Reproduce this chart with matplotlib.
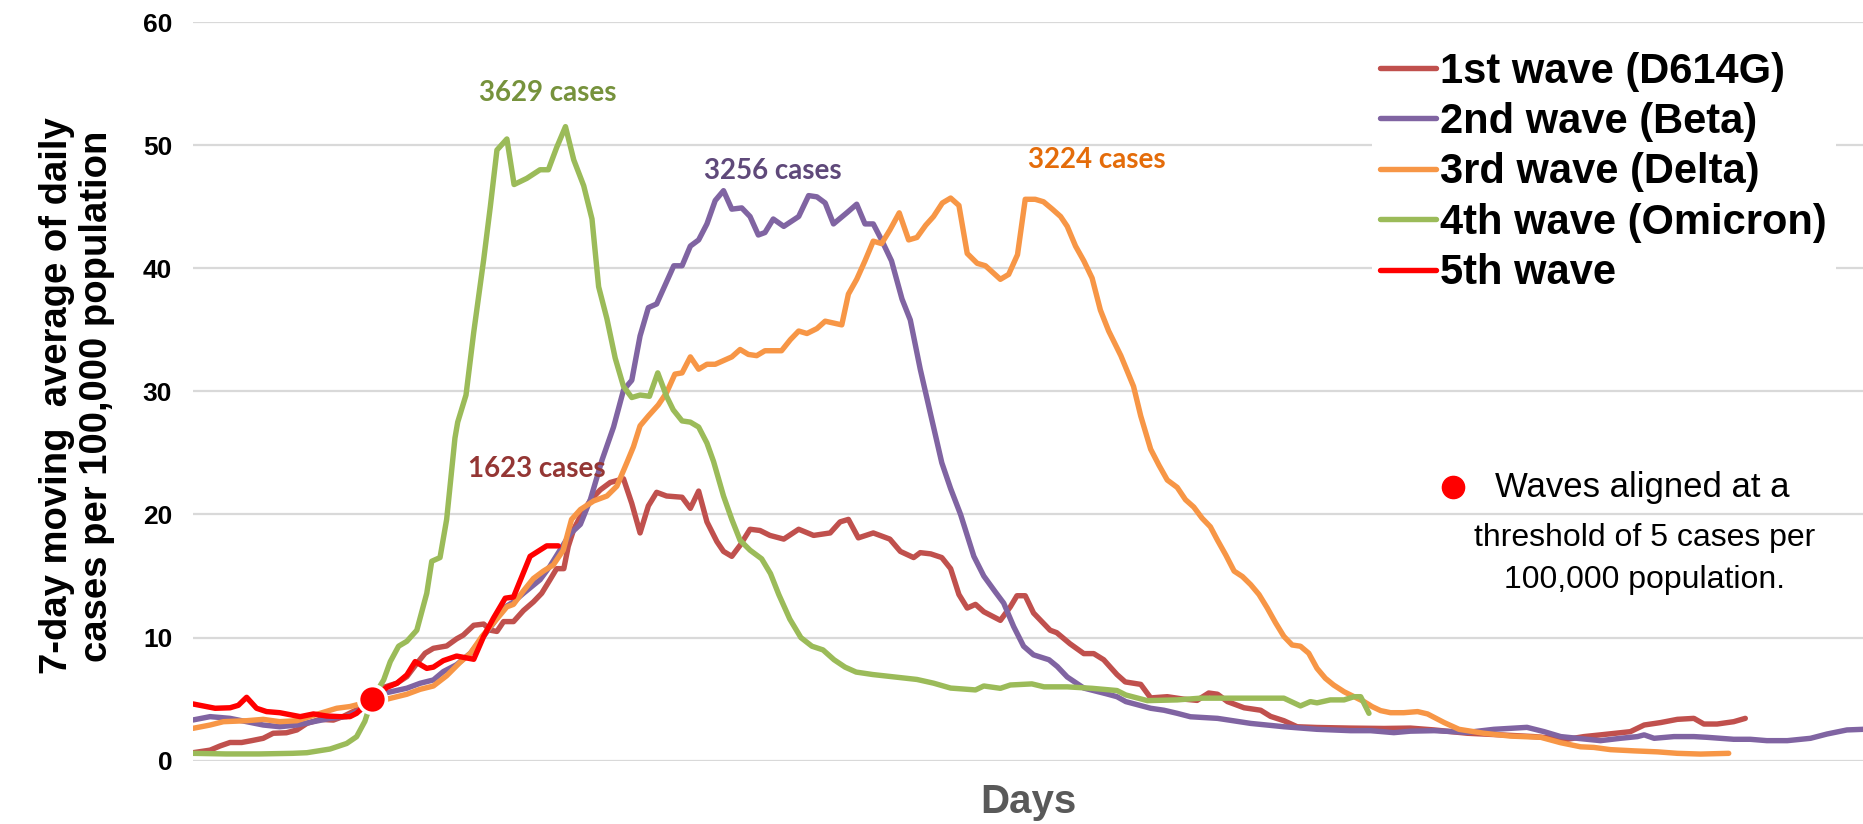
import matplotlib
matplotlib.use("Agg")
import matplotlib.pyplot as plt

plt.rcParams['font.family'] = ['Liberation Sans', 'DejaVu Sans']

# days since start vs 7-day moving average per 100,000
wave1_day = [0, 3.1, 4.9, 6.7, 8.8, 10.6, 12.7, 14.5, 16.9, 18.8,
             20.6, 23.0, 25.4, 27.2, 29.0, 30.8, 32.4, 34.5, 36.9, 38.7,
             40.5, 42.0, 43.5, 45.9, 47.7, 48.9, 50.8, 52.6, 53.8, 55.0,
             56.2, 58.0, 59.8, 61.6, 63.1, 64.6, 65.8, 67.1, 67.9, 68.9,
             70.5, 72.0, 73.7, 75.5, 77.9, 79.4, 80.9, 82.4, 83.9, 85.7,
             88.5, 90.0, 91.5, 93.0, 94.8, 96.0, 97.5, 99.0, 100.8, 102.6,
             104.4, 106.9, 109.6, 112.3, 115.3, 117.1, 118.6, 120.4, 123.1, 126.1,
             128.0, 130.4, 131.6, 133.5, 135.5, 137.1, 138.6, 140.1, 141.6, 143.1,
             146.1, 147.9, 149.1, 150.6, 152.1, 155.1, 156.3, 158.7, 161.2, 163.0,
             164.8, 167.2, 168.7, 171.5, 173.3, 176.3, 179.3, 181.7, 183.8, 185.4,
             187.2, 190.2, 193.2, 195.0, 197.4, 199.8, 203.4, 209.5, 215.5, 220.3,
             224.6, 230.6, 236.6, 242.6, 248.7, 251.7, 254.7, 260.1, 262.6, 265.6,
             268.6, 271.6, 273.4, 275.8, 278.8, 280.9]
wave1_val = [0.65, 0.86, 1.2, 1.48, 1.48, 1.63, 1.82, 2.23, 2.27, 2.5,
             3.03, 3.36, 3.3, 3.6, 4.0, 4.4, 5.0, 5.96, 6.3, 6.83,
             7.9, 8.73, 9.13, 9.32, 9.9, 10.2, 11.0, 11.1, 10.6, 10.5,
             11.3, 11.3, 12.2, 12.9, 13.6, 14.7, 15.6, 15.6, 17.4, 18.8,
             20.2, 21.2, 22.0, 22.6, 22.9, 20.9, 18.5, 20.7, 21.8, 21.5,
             21.4, 20.5, 21.9, 19.4, 17.8, 17.0, 16.6, 17.5, 18.8, 18.7,
             18.3, 18.0, 18.8, 18.3, 18.5, 19.4, 19.6, 18.1, 18.5, 18.0,
             17.0, 16.5, 16.9, 16.8, 16.5, 15.6, 13.5, 12.4, 12.7, 12.1,
             11.4, 12.5, 13.4, 13.4, 12.0, 10.6, 10.4, 9.5, 8.7, 8.7,
             8.2, 7.0, 6.4, 6.2, 5.1, 5.2, 5.0, 4.9, 5.5, 5.4,
             4.8, 4.3, 4.1, 3.6, 3.25, 2.76, 2.7, 2.65, 2.62, 2.65,
             2.5, 2.23, 2.1, 1.96, 1.74, 1.96, 2.1, 2.36, 2.9, 3.1,
             3.36, 3.44, 2.98, 2.98, 3.17, 3.44]

wave2_day = [0, 3.1, 6.7, 9.7, 12.7, 15.7, 18.8, 21.8, 24.8, 27.8,
             30.2, 32.4, 35.1, 38.7, 41.1, 43.5, 45.3, 47.7, 50.2, 52.0,
             54.4, 56.2, 58.0, 59.8, 62.8, 64.6, 66.4, 68.2, 70.1, 71.9,
             74.0, 76.1, 77.9, 79.4, 80.9, 82.4, 83.9, 85.4, 87.0, 88.5,
             90.0, 91.5, 93.0, 94.5, 96.0, 97.5, 99.3, 100.8, 102.3, 103.5,
             105.0, 106.9, 109.6, 111.4, 112.9, 114.4, 115.9, 118.3, 120.1, 121.6,
             123.1, 124.6, 126.4, 128.3, 129.8, 131.6, 133.7, 135.5, 137.1, 138.9,
             141.3, 143.1, 145.2, 146.7, 148.5, 150.3, 152.1, 154.9, 156.4, 158.2,
             161.2, 165.4, 167.2, 168.8, 173.3, 175.7, 178.1, 180.5, 185.4, 191.4,
             197.4, 203.4, 209.5, 213.1, 217.3, 220.3, 224.6, 230.6, 235.4, 241.4,
             244.5, 247.5, 250.5, 254.7, 258.3, 261.4, 262.6, 264.4, 268.0, 271.6,
             274.0, 278.8, 281.8, 284.8, 288.5, 292.7, 295.7, 299.3, 302.2]
wave2_val = [3.31, 3.58, 3.44, 3.17, 2.9, 2.76, 2.9, 3.17, 3.44, 3.58,
             4.1, 5.0, 5.53, 5.89, 6.29, 6.56, 7.24, 7.8, 8.73, 9.76,
             11.2, 12.4, 12.9, 13.6, 14.7, 15.8, 17.1, 18.4, 19.2, 21.2,
             24.4, 27.1, 30.1, 30.9, 34.5, 36.8, 37.1, 38.6, 40.2, 40.2,
             41.8, 42.3, 43.6, 45.5, 46.3, 44.8, 44.9, 44.2, 42.7, 42.9,
             44.0, 43.4, 44.2, 45.9, 45.8, 45.3, 43.6, 44.5, 45.2, 43.6,
             43.6, 42.3, 40.6, 37.5, 35.8, 31.8, 27.7, 24.2, 22.1, 20.0,
             16.6, 15.0, 13.7, 12.8, 10.9, 9.3, 8.6, 8.2, 7.65, 6.8,
             5.9, 5.42, 5.2, 4.8, 4.26, 4.1, 3.85, 3.57, 3.44, 3.03,
             2.76, 2.55, 2.44, 2.44, 2.28, 2.4, 2.44, 2.3, 2.55, 2.71,
             2.36, 1.96, 1.82, 1.63, 1.82, 1.96, 2.1, 1.82, 1.96, 1.96,
             1.9, 1.74, 1.74, 1.63, 1.63, 1.82, 2.17, 2.5, 2.55]

wave3_day = [0, 3.1, 5.5, 9.7, 12.7, 15.7, 18.8, 23.0, 26.0, 28.4,
             30.2, 32.4, 35.1, 38.7, 41.1, 43.5, 45.9, 48.3, 50.2, 52.3,
             54.4, 56.8, 58.0, 59.8, 61.6, 63.4, 65.2, 67.0, 68.5, 70.1,
             72.5, 74.9, 76.7, 78.5, 79.7, 80.9, 82.4, 84.2, 85.7, 87.2,
             88.5, 90.0, 91.5, 93.0, 94.5, 96.0, 97.5, 99.0, 100.5, 102.0,
             103.5, 106.5, 108.1, 109.6, 111.1, 112.9, 114.4, 117.4, 118.6, 120.1,
             121.6, 123.1, 124.6, 126.1, 127.8, 129.5, 131.0, 132.6, 134.0, 135.6,
             137.1, 138.6, 140.1, 141.9, 143.4, 146.1, 147.6, 149.2, 150.6, 152.4,
             153.9, 155.5, 157.0, 158.2, 159.7, 161.2, 162.7, 164.2, 165.7, 167.9,
             170.2, 171.5, 173.3, 174.8, 176.3, 178.1, 179.6, 181.1, 182.6, 184.1,
             185.4, 186.9, 188.4, 189.9, 191.4, 192.9, 194.4, 195.9, 197.4, 198.9,
             200.4, 201.9, 203.4, 204.9, 206.4, 208.3, 210.1, 211.9, 213.4, 214.9,
             216.7, 219.1, 221.6, 223.4, 226.4, 229.1, 233.6, 238.4, 243.9, 247.5,
             251.1, 253.5, 256.5, 260.8, 265.0, 268.6, 272.8, 277.9]
wave3_val = [2.63, 2.9, 3.17, 3.25, 3.36, 3.17, 3.25, 3.85, 4.26, 4.4,
             4.6, 5.0, 5.0, 5.4, 5.8, 6.07, 6.9, 7.98, 8.73, 10.1,
             11.2, 12.5, 12.7, 13.8, 14.8, 15.4, 15.9, 17.1, 19.6, 20.4,
             21.1, 21.5, 22.3, 24.2, 25.5, 27.2, 28.0, 28.9, 29.9, 31.4,
             31.5, 32.8, 31.8, 32.2, 32.2, 32.5, 32.8, 33.4, 33.0, 32.9,
             33.3, 33.3, 34.2, 34.9, 34.7, 35.1, 35.7, 35.4, 37.9, 39.1,
             40.6, 42.2, 42.0, 43.1, 44.5, 42.3, 42.5, 43.5, 44.2, 45.3,
             45.7, 45.1, 41.2, 40.4, 40.2, 39.1, 39.5, 41.1, 45.6, 45.6,
             45.4, 44.8, 44.2, 43.4, 41.8, 40.6, 39.2, 36.6, 34.9, 32.9,
             30.4, 28.0, 25.3, 24.0, 22.8, 22.2, 21.2, 20.6, 19.7, 19.0,
             17.9, 16.7, 15.4, 14.96, 14.3, 13.5, 12.4, 11.2, 10.1, 9.4,
             9.3, 8.73, 7.5, 6.7, 6.15, 5.6, 5.2, 4.8, 4.39, 4.07,
             3.9, 3.9, 3.99, 3.8, 3.1, 2.55, 2.23, 2.0, 1.9, 1.46,
             1.13, 1.08, 0.9, 0.8, 0.72, 0.6, 0.54, 0.6]

wave4_day = [0, 6, 12, 18, 20.6, 24.8, 27.8, 29.6, 31.1, 32.4,
             34.5, 35.7, 37.2, 38.7, 40.5, 42.3, 43.2, 44.7, 45.9, 47.4,
             47.9, 49.4, 50.8, 52.6, 53.8, 55.0, 56.8, 58.1, 60.4, 62.8,
             64.3, 65.8, 67.4, 68.9, 70.7, 72.2, 73.4, 74.9, 76.4, 77.9,
             79.4, 80.9, 82.6, 84.1, 85.7, 86.9, 88.5, 90.0, 91.5, 93.0,
             94.2, 96.0, 97.5, 99.0, 100.8, 102.9, 104.5, 106, 108, 110,
             112, 114, 116, 118, 120, 123, 127, 131, 134, 137.1,
             141.6, 143.1, 146.1, 147.9, 151.8, 154.0, 158.2, 162.7, 167.2, 168.8,
             172.7, 178.1, 182.3, 185.4, 191.4, 197.4, 200.4, 202.2, 203.4, 205.8,
             208.3, 210.1, 211.3, 212.8]
wave4_val = [0.6, 0.55, 0.55, 0.6, 0.65, 0.95, 1.4, 1.95, 3.2, 5.0,
             6.56, 8.05, 9.3, 9.7, 10.6, 13.6, 16.2, 16.5, 19.6, 26.2,
             27.5, 29.7, 34.8, 40.7, 45.0, 49.6, 50.5, 46.8, 47.3, 48.0,
             48.0, 49.8, 51.5, 48.8, 46.7, 44.0, 38.5, 35.9, 32.7, 30.4,
             29.5, 29.7, 29.6, 31.5, 29.6, 28.5, 27.6, 27.5, 27.1, 25.8,
             24.3, 21.5, 19.6, 17.9, 17.1, 16.4, 15.2, 13.5, 11.5, 10.0,
             9.3, 9.0, 8.2, 7.6, 7.2, 7.0, 6.8, 6.6, 6.3, 5.9,
             5.75, 6.07, 5.88, 6.15, 6.24, 6.0, 6.0, 5.88, 5.7, 5.34,
             4.88, 4.94, 5.08, 5.08, 5.08, 5.08, 4.45, 4.8, 4.7, 4.94,
             4.94, 5.2, 5.2, 3.85]

wave5_day = [0, 4.0, 6.7, 8.2, 9.7, 11.5, 13.3, 15.7, 19.4, 21.8,
             24.2, 26.6, 28.4, 29.6, 32.4, 35.1, 36.9, 38.7, 40.2, 42.3,
             43.5, 45.3, 47.7, 50.8, 52.6, 54.4, 56.5, 58.0, 61.0, 64.0, 66.1]
wave5_val = [4.61, 4.26, 4.3, 4.5, 5.15, 4.26, 3.99, 3.9, 3.58, 3.8,
             3.63, 3.58, 3.58, 3.85, 5.0, 5.96, 6.29, 6.97, 8.05, 7.5,
             7.6, 8.13, 8.5, 8.24, 10.1, 11.6, 13.2, 13.3, 16.6, 17.45, 17.45]

labels = ['1st wave (D614G)', '2nd wave (Beta)', '3rd wave (Delta)',
          '4th wave (Omicron)', '5th wave']
colors = ['#C0504D', '#8064A2', '#F79646', '#9BBB59', '#FF0000']

align_day, align_val = 32.4, 5.0

# peak annotations: text, x, y, colour
peak_text = ['3629 cases', '3256 cases', '3224 cases', '1623 cases']
peak_x = [64.2, 104.9, 163.6, 62.3]
peak_y = [54.2, 47.9, 48.8, 23.7]
peak_col = ['#76923C', '#5F497A', '#E46C0A', '#943634']

note_lines = ['Waves aligned at a', 'threshold of 5 cases per',
              '100,000 population.']

fig = plt.figure(figsize=(18.63, 8.24), dpi=100)
ax = fig.add_axes([0.1036, 0.0768, 0.8964, 0.8965])

series = [(wave1_day, wave1_val), (wave2_day, wave2_val), (wave3_day, wave3_val),
          (wave4_day, wave4_val), (wave5_day, wave5_val)]
for (d, v), lab, c in zip(series, labels, colors):
    ax.plot(d, v, color=c, lw=3.9, label=lab, solid_joinstyle='round',
            solid_capstyle='round')

ax.plot([align_day], [align_val], 'o', color='#FF0000', ms=20, mec='white',
        mew=2.5, zorder=5)

for t, x, y, c in zip(peak_text, peak_x, peak_y, peak_col):
    ax.text(x, y, t, color=c, ha='center', va='center', fontsize=20,
            fontweight='bold', family=['Lato', 'DejaVu Sans'])

ax.set_xlim(0, 302.2)
ax.set_ylim(0, 60)
ax.set_yticks(range(0, 61, 10))
ax.set_xticks([])
ax.tick_params(axis='y', length=0, pad=15, labelsize=19)
for lbl in ax.get_yticklabels():
    lbl.set_fontweight('bold')
for s in ax.spines.values():
    s.set_visible(False)
ax.grid(axis='y', color='#D9D9D9', lw=1.6)
ax.set_axisbelow(True)

leg = ax.legend(loc='upper left', bbox_to_anchor=(0.7365, 0.9475),
                bbox_transform=fig.transFigure,
                prop={'weight': 'bold', 'size': 30}, frameon=True,
                handlelength=1.34, handletextpad=0.1, labelspacing=0.25,
                borderpad=0.2, borderaxespad=0)
leg.get_frame().set_facecolor('white')
leg.get_frame().set_edgecolor('none')
leg.get_frame().set_alpha(1)
for h in leg.get_lines():
    h.set_linewidth(3.9)

# note on alignment (one text per line, centred)
note_x = [1642, 1645, 1645]
note_y = [487, 538, 580]
note_size = [25, 23, 23]
for t, x, y, s in zip(note_lines, note_x, note_y, note_size):
    fig.text(x / 1863, 1 - y / 824, t, ha='center', va='center', fontsize=s,
             bbox=dict(fc='white', ec='none', pad=1))
fig.lines.append(plt.Line2D([1453 / 1863], [1 - 487 / 824], marker='o',
                            color='#FF0000', ms=16, transform=fig.transFigure))

fig.text(1028 / 1863, 1 - 802 / 824, 'Days', ha='center', va='center',
         fontsize=29, fontweight='bold', color='#595959')
fig.text(77 / 1863, 1 - 396 / 824,
         '7-day moving  average of daily\ncases per 100,000 population',
         ha='center', va='center', rotation=90, fontsize=27.5,
         fontweight='bold', linespacing=1.17)

fig.savefig('out.png', dpi=100)
